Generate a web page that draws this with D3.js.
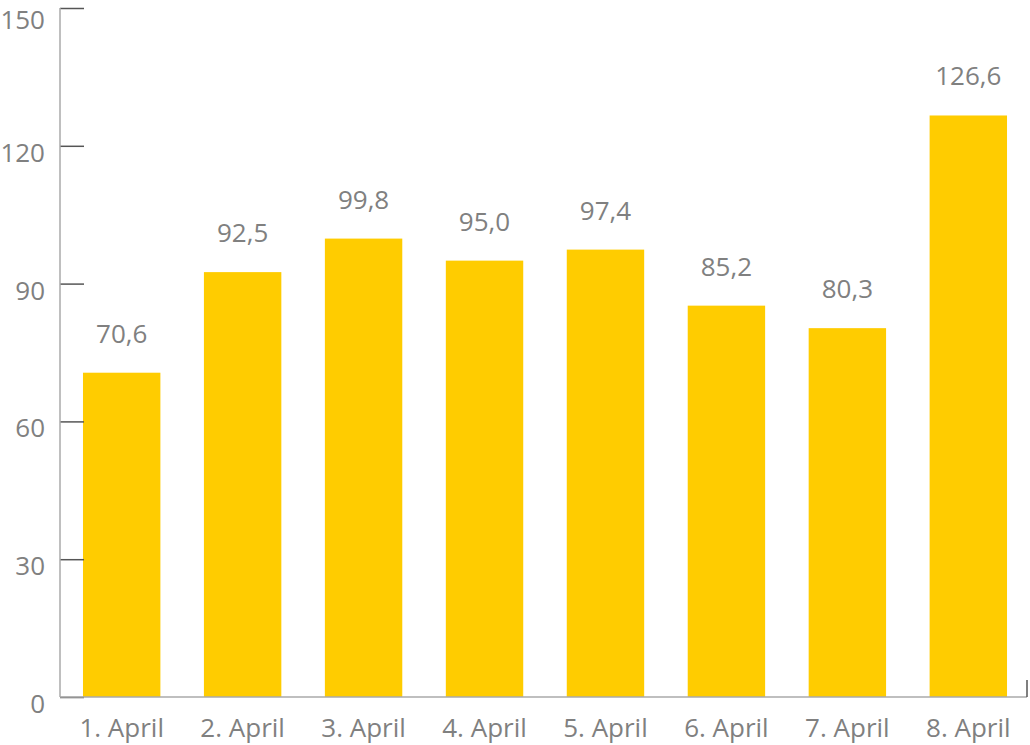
<!DOCTYPE html>
<html><head><meta charset="utf-8">
<script src="https://cdn.jsdelivr.net/npm/d3@7/dist/d3.min.js"></script>
<style>body{margin:0;background:#fff}svg{display:block}text{font-family:"Open Sans",sans-serif}</style>
</head><body>
<svg id="c" width="1030" height="745"></svg>
<script>
const categories = ["1. April","2. April","3. April","4. April","5. April","6. April","7. April","8. April"];
const values = [70.6, 92.5, 99.8, 95.0, 97.4, 85.2, 80.3, 126.6];
const yTicks = [0, 30, 60, 90, 120, 150];

const svg = d3.select("#c");
const x0 = 60, x1 = 1027, yBase = 697, yTop = 8;
const x = d3.scaleBand().domain(categories).range([x0, 1030]).paddingInner(0.36).paddingOuter(0.19);
const y = d3.scaleLinear().domain([0, 150]).range([yBase, yTop]);
const fmt = v => v.toFixed(1).replace(".", ",");

svg.selectAll("rect.bar").data(values).join("rect").attr("class","bar")
  .attr("x",(d,i)=>x(categories[i])).attr("width",x.bandwidth())
  .attr("y",d=>y(d)).attr("height",d=>yBase-y(d)).attr("fill","#ffcc00");

// y axis
const ya = svg.append("g").attr("transform",`translate(${x0},0)`)
  .call(d3.axisRight(y).tickValues(yTicks).tickSize(24).tickFormat(""));
ya.select(".domain").remove();
ya.selectAll(".tick line").attr("stroke","#555").attr("stroke-width",1.5);
svg.append("line").attr("x1",x0).attr("x2",x0).attr("y1",yTop).attr("y2",yBase).attr("stroke","#aaa").attr("stroke-width",1.5);
svg.selectAll("text.yl").data(yTicks).join("text").attr("class","yl")
  .attr("x",45).attr("y",d=>Math.max(y(d)+16, 29)).attr("text-anchor","end")
  .attr("font-size",26).attr("fill","#808080").text(d=>d);

// x axis
svg.append("line").attr("x1",x0).attr("x2",x1).attr("y1",yBase).attr("y2",yBase).attr("stroke","#aaa").attr("stroke-width",1.5);
svg.append("line").attr("x1",x1).attr("x2",x1).attr("y1",yBase-17).attr("y2",yBase).attr("stroke","#555").attr("stroke-width",1.5);
svg.selectAll("text.xl").data(categories).join("text").attr("class","xl")
  .attr("x",d=>x(d)+x.bandwidth()/2).attr("y",737).attr("text-anchor","middle")
  .attr("font-size",26).attr("fill","#808080").text(d=>d);

// value labels
svg.selectAll("text.vl").data(values).join("text").attr("class","vl")
  .attr("x",(d,i)=>x(categories[i])+x.bandwidth()/2).attr("y",d=>y(d)-30).attr("text-anchor","middle")
  .attr("font-size",26).attr("fill","#808080").text(fmt);
</script></body></html>
